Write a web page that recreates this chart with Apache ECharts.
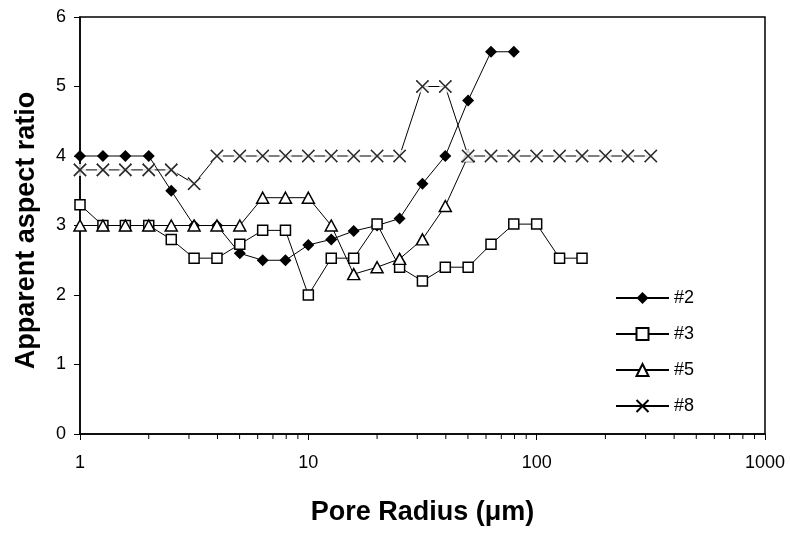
<!DOCTYPE html>
<html>
<head>
<meta charset="utf-8">
<script src="https://cdn.jsdelivr.net/npm/echarts@6/dist/echarts.min.js"></script>
<style>
  html, body { margin: 0; padding: 0; background: #fff; }
  #chart { width: 790px; height: 533px; }
</style>
</head>
<body>
<div id="chart"></div>
<script>
// pore radius (um), points are spaced 0.1 decade apart
const radii = [1, 1.26, 1.58, 2, 2.51, 3.16, 3.98, 5.01, 6.31, 7.94, 10, 12.6, 15.8, 20, 25.1, 31.6, 39.8, 50.1, 63.1, 79.4, 100, 126, 158, 200, 251, 316];

const s2 = [4, 4, 4, 4, 3.5, 3, 3, 2.6, 2.5, 2.5, 2.72, 2.8, 2.92, 3.0, 3.1, 3.6, 4.0, 4.8, 5.5, 5.5];
const s3 = [3.3, 3, 3, 3, 2.8, 2.53, 2.53, 2.73, 2.93, 2.93, 2.0, 2.53, 2.53, 3.02, 2.4, 2.2, 2.4, 2.4, 2.73, 3.02, 3.02, 2.53, 2.53];
const s5 = [3, 3, 3, 3, 3, 3, 3, 3, 3.4, 3.4, 3.4, 3.0, 2.3, 2.4, 2.52, 2.8, 3.28, 4.0];
const s8 = [3.8, 3.8, 3.8, 3.8, 3.8, 3.6, 4, 4, 4, 4, 4, 4, 4, 4, 4, 5, 5, 4, 4, 4, 4, 4, 4, 4, 4, 4];

const seriesNames = ['#2', '#3', '#5', '#8'];
const minorTicks = [2, 3, 4, 5, 6, 7, 8, 9, 20, 30, 40, 50, 60, 70, 80, 90, 200, 300, 400, 500, 600, 700, 800, 900];

const font = 'Liberation Sans, Arial, sans-serif';
const xMark = 'path://M0,0L10,10M10,0L0,10';

const pairs = (vals) => vals.map((v, i) => [radii[i], v]);

const chart = echarts.init(document.getElementById('chart'));

chart.setOption({
  animation: false,
  grid: {
    left: 80, right: 25, top: 17, bottom: 99,
    show: true, borderColor: '#000', borderWidth: 1.5
  },
  legend: {
    data: seriesNames,
    orient: 'vertical',
    left: 610, top: 284,
    itemWidth: 53, itemHeight: 15, itemGap: 18,
    textStyle: { fontFamily: font, fontSize: 18, color: '#000' }
  },
  xAxis: {
    type: 'log', logBase: 10, min: 1, max: 1000,
    name: 'Pore Radius (\u03bcm)',
    nameLocation: 'middle', nameGap: 65,
    nameTextStyle: { fontFamily: font, fontSize: 27, fontWeight: 'bold', color: '#000' },
    axisLine: { lineStyle: { color: '#000', width: 1.5 } },
    axisTick: { length: 6, lineStyle: { color: '#000' } },
    axisLabel: { fontFamily: font, fontSize: 18, color: '#000', margin: 20, formatter: v => String(v) },
    splitLine: { show: false }
  },
  yAxis: {
    type: 'value', min: 0, max: 6, interval: 1,
    name: 'Apparent aspect ratio',
    nameLocation: 'middle', nameGap: 40,
    nameTextStyle: { fontFamily: font, fontSize: 27, fontWeight: 'bold', color: '#000', padding: [0, 0, 0, -10] },
    axisLine: { show: true, lineStyle: { color: '#000', width: 1.5 } },
    axisTick: { show: true, length: 6, lineStyle: { color: '#000' } },
    axisLabel: { fontFamily: font, fontSize: 18, color: '#000', margin: 14 },
    splitLine: { show: false }
  },
  series: [
    {
      name: '#2', type: 'line', z: 2, data: pairs(s2),
      symbol: 'diamond', symbolSize: 12,
      itemStyle: { color: '#000' },
      lineStyle: { color: '#000', width: 1 }
    },
    {
      name: '#3', type: 'line', z: 2, data: pairs(s3),
      symbol: 'rect', symbolSize: 10,
      itemStyle: { color: '#fff', borderColor: '#000', borderWidth: 1.5 },
      lineStyle: { color: '#000', width: 1 }
    },
    {
      name: '#5', type: 'line', z: 2, data: pairs(s5),
      symbol: 'triangle', symbolSize: [12, 11],
      itemStyle: { color: '#fff', borderColor: '#000', borderWidth: 1.5 },
      lineStyle: { color: '#000', width: 1 }
    },
    {
      name: '#8', type: 'line', z: 2, data: pairs(s8),
      symbol: xMark, symbolSize: 12,
      itemStyle: { color: '#000', borderColor: '#000', borderWidth: 1.5 },
      lineStyle: { color: '#000', width: 1 }
    },
    {
      // white box behind the x markers, as in the original
      name: 'mask8', type: 'scatter', z: 3, silent: true, data: pairs(s8),
      symbol: 'rect', symbolSize: 12,
      itemStyle: { color: '#fff' }
    },
    {
      name: 'x8', type: 'scatter', z: 4, silent: true, data: pairs(s8),
      symbol: xMark, symbolSize: 12,
      itemStyle: { color: '#000', borderColor: '#000', borderWidth: 1.5 }
    },
    {
      // minor ticks of the log axis
      name: 'minor', type: 'custom', silent: true, z: 5,
      data: minorTicks.map(v => [v, 0]),
      renderItem: (params, api) => {
        const p = api.coord([api.value(0), 0]);
        return {
          type: 'line',
          shape: { x1: p[0], y1: p[1], x2: p[0], y2: p[1] + 5 },
          style: { stroke: '#000', lineWidth: 1 }
        };
      }
    }
  ]
});
</script>
</body>
</html>
